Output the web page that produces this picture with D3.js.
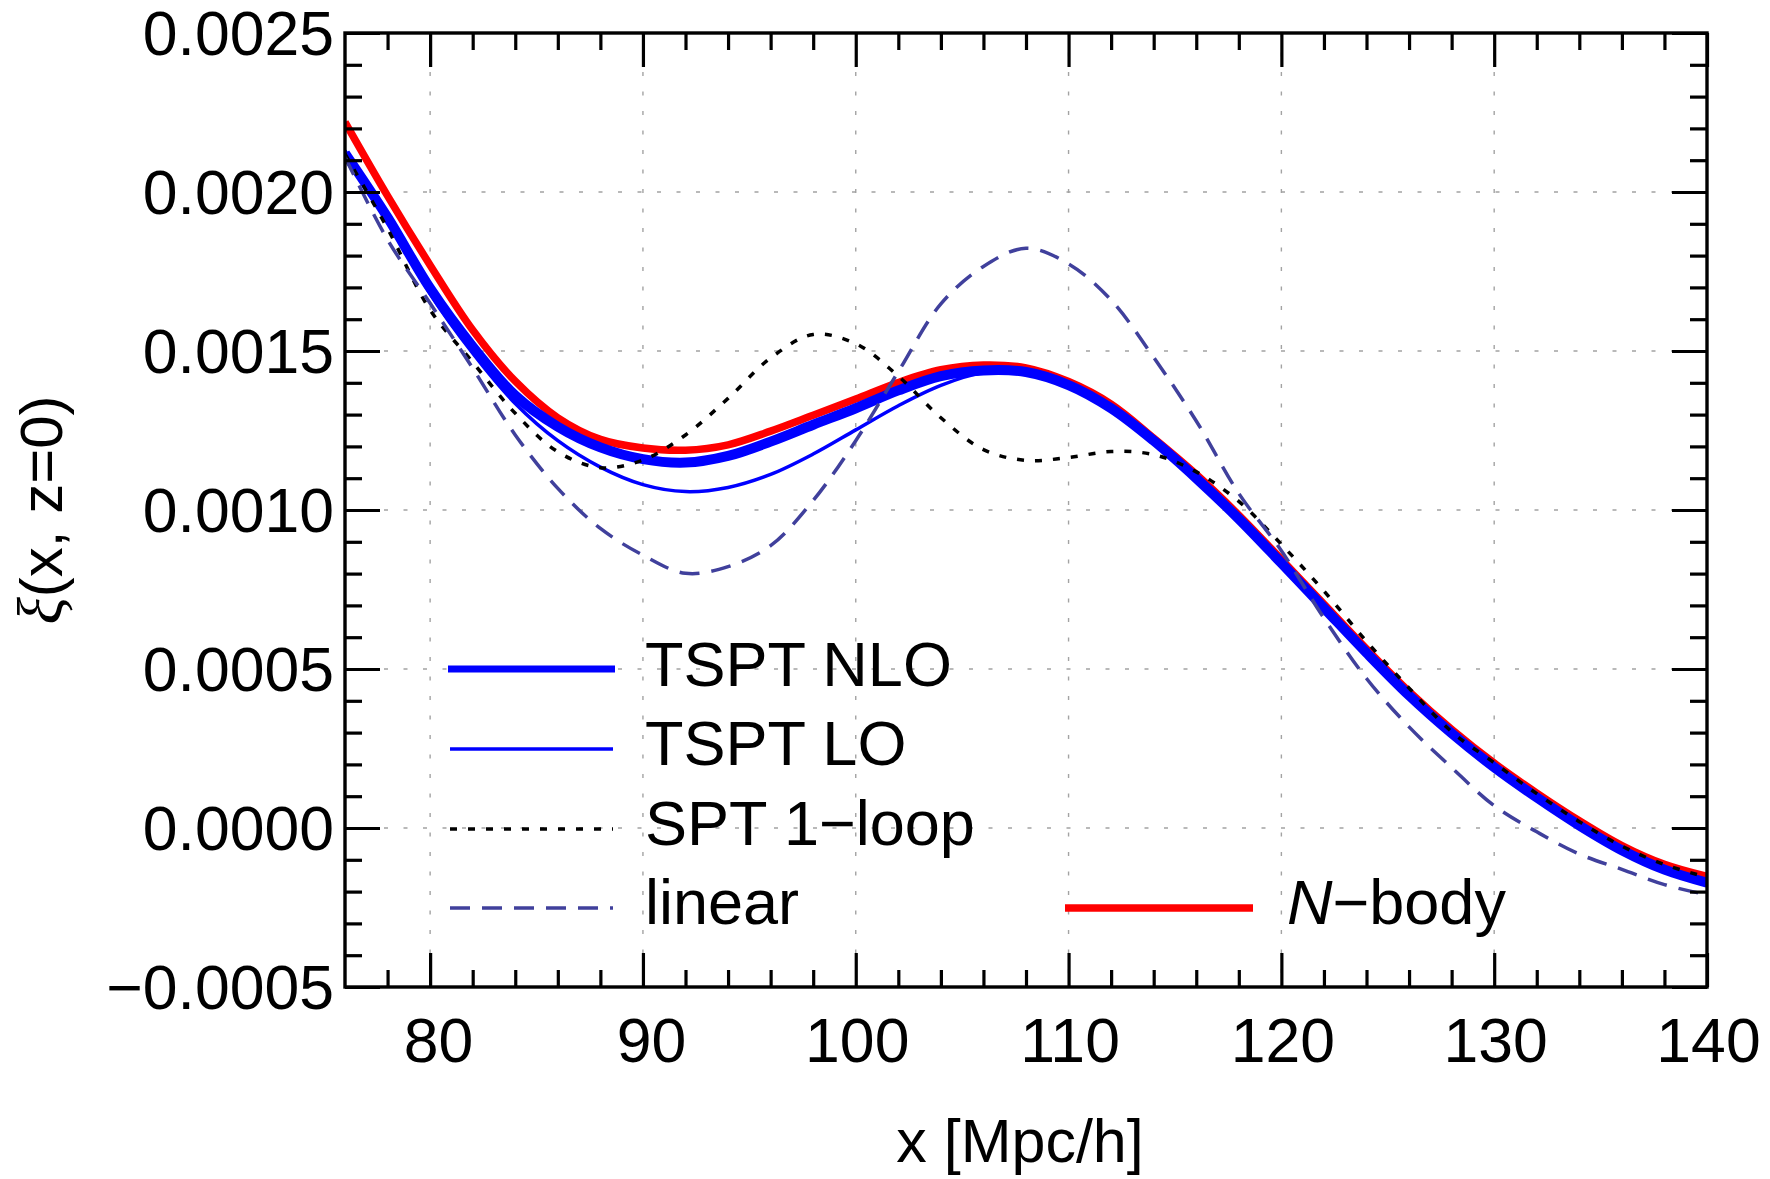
<!DOCTYPE html>
<html>
<head>
<meta charset="utf-8">
<script src="https://cdn.jsdelivr.net/npm/d3@7"></script>
<style>
  html, body { margin: 0; padding: 0; background: #fff; }
  svg { display: block; }
  text { font-family: "Liberation Sans", Arial, Helvetica, sans-serif; fill: #000; }
</style>
</head>
<body>
<svg id="chart" width="1770" height="1179"></svg>
<script>
// Separation x [Mpc/h]
const xs = [76, 78, 80, 82, 84, 86, 88, 90, 92, 94, 96, 98, 100, 102, 104, 106, 108,
            110, 112, 114, 116, 118, 120, 122, 124, 126, 128, 130, 132, 134, 136, 138, 140];

// Correlation function xi(x, z=0) for each model
const nbody = [0.00222, 0.001988, 0.00177, 0.001566, 0.001405, 0.00129, 0.001222, 0.001195, 0.001188,
               0.001205, 0.001248, 0.001298, 0.001349, 0.001401, 0.001441, 0.001456, 0.001447,
               0.001404, 0.001333, 0.001226, 0.001112, 0.000984, 0.000845, 0.000704, 0.000563,
               0.000429, 0.00031, 0.000204, 0.00011, 0.000023, -0.000055, -0.000114, -0.000152];

const tsptNLO = [0.002122, 0.00192, 0.001697, 0.001514, 0.00136, 0.001262, 0.001197, 0.00116, 0.001149,
                 0.00117, 0.001215, 0.001268, 0.00132, 0.001376, 0.001421, 0.001439, 0.001434,
                 0.001393, 0.00132, 0.001218, 0.0011, 0.000972, 0.000833, 0.000692, 0.000551,
                 0.000417, 0.000298, 0.000191, 0.000096, 0.000008, -0.00007, -0.000131, -0.000172];

const tsptLO = [0.00213, 0.00192, 0.00168, 0.001493, 0.001335, 0.001218, 0.001135, 0.00108, 0.001058,
                0.001071, 0.001112, 0.001176, 0.001252, 0.001328, 0.001392, 0.001432, 0.001434,
                0.001392, 0.001317, 0.001214, 0.001096, 0.000968, 0.000829, 0.000688, 0.000547,
                0.000413, 0.000294, 0.000187, 0.000092, 0.000004, -0.000074, -0.000135, -0.000176];

const spt1loop = [0.00212, 0.001885, 0.001629, 0.001465, 0.001304, 0.001183, 0.001133, 0.001157, 0.001236,
                  0.001351, 0.001478, 0.001552, 0.001523, 0.001421, 0.00129, 0.00119, 0.001156,
                  0.001165, 0.001184, 0.001174, 0.00112, 0.001027, 0.000892, 0.000745, 0.000587,
                  0.00044, 0.000303, 0.000205, 0.000108, 0.00002, -0.000057, -0.000115, -0.000155];

const linear = [0.00211, 0.00185, 0.00165, 0.001446, 0.001236, 0.001068, 0.000942, 0.000858, 0.000801,
                0.000822, 0.000888, 0.00103, 0.001218, 0.001435, 0.001648, 0.001766, 0.001823,
                0.001774, 0.00166, 0.00148, 0.00128, 0.001052, 0.000872, 0.00066, 0.00047,
                0.000318, 0.00019, 0.00007, -0.000012, -0.000082, -0.00013, -0.000178, -0.00021];

// Axis ticks
const xMajor = [80, 90, 100, 110, 120, 130, 140];
const xMinor = [78, 82, 84, 86, 88, 92, 94, 96, 98, 102, 104, 106, 108, 112, 114, 116, 118,
                122, 124, 126, 128, 132, 134, 136, 138];
const yMajor = [-0.0005, 0, 0.0005, 0.001, 0.0015, 0.002, 0.0025];
const yMinor = d3.range(-5, 26).filter(i => i % 5 !== 0).map(i => i / 10000);

// Legend entries
const legendLabels = ["TSPT NLO", "TSPT LO", "SPT 1\u2212loop", "linear", "N\u2212body"];

const svg = d3.select("#chart");
const plotL = 345, plotR = 1707, plotT = 33, plotB = 987;

const x = d3.scaleLinear().domain([76, 140]).range([plotL, plotR]);
const y = d3.scaleLinear().domain([-0.0005, 0.0025]).range([plotB, plotT]);

// Grid
const grid = svg.append("g").attr("stroke", "#a3a3a3").attr("stroke-width", 1.4)
  .attr("stroke-dasharray", "4,15.5");
grid.selectAll("line.v").data(xMajor.filter(d => d > 76 && d < 140)).join("line")
  .attr("class", "v").attr("x1", d => x(d)).attr("x2", d => x(d))
  .attr("y1", plotT).attr("y2", plotB);
grid.selectAll("line.h").data(yMajor.filter(d => d > -0.0005 && d < 0.0025)).join("line")
  .attr("class", "h").attr("y1", d => y(d)).attr("y2", d => y(d))
  .attr("x1", plotL).attr("x2", plotR);

// Curves
const line = d3.line().x(d => x(d[0])).y(d => y(d[1])).curve(d3.curveCatmullRom.alpha(0.5));
const pts = vals => xs.map((v, i) => [v, vals[i]]);

const series = [
  { name: "N-body", values: nbody, color: "#ff0000", width: 7.5, dash: null },
  { name: "TSPT NLO", values: tsptNLO, color: "#0000ff", width: 10, dash: null },
  { name: "TSPT LO", values: tsptLO, color: "#0000ff", width: 3.5, dash: null },
  { name: "SPT 1-loop", values: spt1loop, color: "#000000", width: 3.5, dash: "7,11" },
  { name: "linear", values: linear, color: "#40409c", width: 3.5, dash: "20,12" }
];

svg.append("clipPath").attr("id", "plotclip").append("rect")
  .attr("x", plotL).attr("y", plotT).attr("width", plotR - plotL).attr("height", plotB - plotT);

svg.append("g").attr("clip-path", "url(#plotclip)")
  .selectAll("path").data(series).join("path")
  .attr("d", d => line(pts(d.values)))
  .attr("fill", "none")
  .attr("stroke", d => d.color)
  .attr("stroke-width", d => d.width)
  .attr("stroke-dasharray", d => d.dash)
  .attr("stroke-linejoin", "round");

// Axes with inward ticks on all four sides
function styleAxis(g) {
  g.select(".domain").remove();
  g.selectAll(".tick line").attr("stroke", "#000").attr("stroke-width", 3.2);
  g.selectAll(".tick text").attr("font-size", 62.5).attr("fill", "#000")
    .attr("font-family", "'Liberation Sans', Arial, sans-serif");
}

svg.append("g").attr("transform", `translate(0,${plotB})`)
  .call(d3.axisBottom(x).tickValues(xMajor).tickSizeInner(-34).tickSizeOuter(0).tickPadding(31))
  .call(styleAxis)
  .call(g => g.selectAll(".tick text").attr("dx", d => (d < 100 ? 8 : 1)));
svg.append("g").attr("transform", `translate(0,${plotB})`)
  .call(d3.axisBottom(x).tickValues(xMinor).tickSizeInner(-17).tickSizeOuter(0).tickFormat(""))
  .call(styleAxis);
svg.append("g").attr("transform", `translate(0,${plotT})`)
  .call(d3.axisTop(x).tickValues(xMajor).tickSizeInner(-34).tickSizeOuter(0).tickFormat(""))
  .call(styleAxis);
svg.append("g").attr("transform", `translate(0,${plotT})`)
  .call(d3.axisTop(x).tickValues(xMinor).tickSizeInner(-17).tickSizeOuter(0).tickFormat(""))
  .call(styleAxis);

svg.append("g").attr("transform", `translate(${plotL},0)`)
  .call(d3.axisLeft(y).tickValues(yMajor).tickSizeInner(-35).tickSizeOuter(0).tickPadding(11)
    .tickFormat(d3.format(".4f")))
  .call(styleAxis)
  .call(g => g.selectAll(".tick text").attr("dy", "0.35em"));
svg.append("g").attr("transform", `translate(${plotL},0)`)
  .call(d3.axisLeft(y).tickValues(yMinor).tickSizeInner(-17).tickSizeOuter(0).tickFormat(""))
  .call(styleAxis);
svg.append("g").attr("transform", `translate(${plotR},0)`)
  .call(d3.axisRight(y).tickValues(yMajor).tickSizeInner(-35).tickSizeOuter(0).tickFormat(""))
  .call(styleAxis);
svg.append("g").attr("transform", `translate(${plotR},0)`)
  .call(d3.axisRight(y).tickValues(yMinor).tickSizeInner(-17).tickSizeOuter(0).tickFormat(""))
  .call(styleAxis);

// Frame
svg.append("rect").attr("x", plotL).attr("y", plotT)
  .attr("width", plotR - plotL).attr("height", plotB - plotT)
  .attr("fill", "none").attr("stroke", "#000").attr("stroke-width", 3.4);

// Axis titles
svg.append("text").attr("x", 1020).attr("y", 1162).attr("text-anchor", "middle")
  .attr("font-size", 61).text("x [Mpc/h]");

const yt = svg.append("text").attr("transform", "translate(62,510) rotate(-90)")
  .attr("text-anchor", "middle").attr("font-size", 60);
yt.append("tspan").attr("font-family", "'Liberation Serif', 'DejaVu Serif', serif")
  .attr("font-style", "italic").attr("font-size", 64).text("\u03be");
yt.append("tspan").text("(x, z=0)");

// Legend
const legendItems = [
  { label: legendLabels[0], s: series[1], lw: 7, x0: 448, x1: 615, ly: 669, tx: 645, ty: 686 },
  { label: legendLabels[1], s: series[2], lw: 3.5, x0: 450, x1: 613, ly: 749, tx: 645, ty: 765 },
  { label: legendLabels[2], s: series[3], lw: 3.5, x0: 450, x1: 613, ly: 829, tx: 645, ty: 845 },
  { label: legendLabels[3], s: series[4], lw: 3.5, x0: 450, x1: 613, ly: 908, tx: 645, ty: 924 },
  { label: legendLabels[4], s: series[0], lw: 7.5, x0: 1065, x1: 1253, ly: 908, tx: 1287, ty: 924 }
];

const lg = svg.append("g");
lg.selectAll("line").data(legendItems).join("line")
  .attr("x1", d => d.x0).attr("x2", d => d.x1)
  .attr("y1", d => d.ly).attr("y2", d => d.ly)
  .attr("stroke", d => d.s.color).attr("stroke-width", d => d.lw)
  .attr("stroke-dasharray", d => d.s.dash);

lg.selectAll("text").data(legendItems).join("text")
  .attr("x", d => d.tx).attr("y", d => d.ty).attr("font-size", 63)
  .each(function (d) {
    const t = d3.select(this);
    if (d.label.startsWith("N\u2212")) {
      t.append("tspan").attr("font-style", "italic").text("N");
      t.append("tspan").text(d.label.slice(1));
    } else {
      t.text(d.label);
    }
  });
</script>
</body>
</html>
